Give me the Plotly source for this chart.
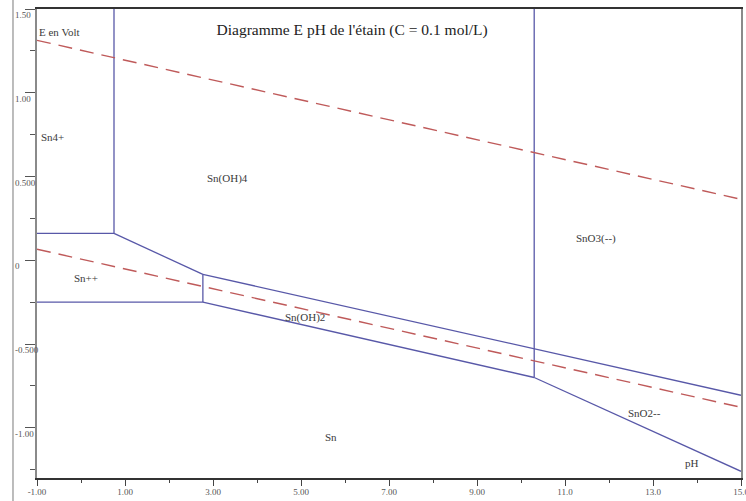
import plotly.graph_objects as go

# ---- axis ticks ----
x_major = [-1, 1, 3, 5, 7, 9, 11, 13, 15]
x_labels = ["-1.00", "1.00", "3.00", "5.00", "7.00", "9.00", "11.0", "13.0", "15.0"]
x_minor = [0, 2, 4, 6, 8, 10, 12, 14]
y_major = [1.5, 1.0, 0.5, 0, -0.5, -1.0]
y_labels = ["1.50", "1.00", "0.500", "0", "-0.500", "-1.00"]
y_minor = [1.25, 0.75, 0.25, -0.25, -0.75, -1.25]

# ---- boundary lines (pH, E in volt) ----
sn4_sn2_pH = [-1, 0.75]
sn4_sn2_E = [0.16, 0.16]
sn4_snoh4_pH = [0.75, 0.75]
sn4_snoh4_E = [0.16, 1.5]
snoh4_sn2_pH = [0.75, 2.77]
snoh4_sn2_E = [0.16, -0.084]
sn2_snoh2_pH = [2.77, 2.77]
sn2_snoh2_E = [-0.084, -0.25]
sn2_sn_pH = [-1, 2.77]
sn2_sn_E = [-0.25, -0.25]
snoh4_snoh2_pH = [2.77, 15]
snoh4_snoh2_E = [-0.084, -0.806]
snoh2_sn_pH = [2.77, 10.3]
snoh2_sn_E = [-0.25, -0.70]
snoh4_sno3_pH = [10.3, 10.3]
snoh4_sno3_E = [-0.70, 1.5]
sno2_sn_pH = [10.3, 15]
sno2_sn_E = [-0.70, -1.26]

# ---- water stability lines ----
o2_pH = [-1, 15]
o2_E = [1.313, 0.364]
h2_pH = [-1, 15]
h2_E = [0.066, -0.878]

# ---- region labels ----
label_text = ["E en Volt", "Sn4+", "Sn(OH)4", "Sn++", "Sn(OH)2", "SnO3(--)", "SnO2--", "Sn", "pH"]
label_pH = [-1.0, -0.955, 2.82, -0.205, 4.59, 11.2, 12.39, 5.5, 13.68]
label_E = [1.361, 0.734, 0.490, -0.107, -0.340, 0.131, -0.913, -1.057, -1.212]

title_text = "Diagramme E pH de l'étain (C = 0.1 mol/L)"

BLUE = "#5858a8"
RED = "#bf5a5a"
SERIF = "Liberation Serif"

fig = go.Figure()

blue_segments = [
    (sn4_sn2_pH, sn4_sn2_E),
    (sn4_snoh4_pH, sn4_snoh4_E),
    (snoh4_sn2_pH, snoh4_sn2_E),
    (sn2_snoh2_pH, sn2_snoh2_E),
    (sn2_sn_pH, sn2_sn_E),
    (snoh4_snoh2_pH, snoh4_snoh2_E),
    (snoh2_sn_pH, snoh2_sn_E),
    (snoh4_sno3_pH, snoh4_sno3_E),
    (sno2_sn_pH, sno2_sn_E),
]
for xs, ys in blue_segments:
    fig.add_trace(go.Scatter(x=xs, y=ys, mode="lines",
                             line=dict(color=BLUE, width=1.3),
                             showlegend=False, hoverinfo="skip"))

for xs, ys in [(o2_pH, o2_E), (h2_pH, h2_E)]:
    fig.add_trace(go.Scatter(x=xs, y=ys, mode="lines",
                             line=dict(color=RED, width=1.4, dash="14px,8px"),
                             showlegend=False, hoverinfo="skip"))

annotations = []
for t, xv, yv in zip(label_text, label_pH, label_E):
    annotations.append(dict(x=xv, y=yv, xref="x", yref="y", text=t, showarrow=False,
                            xanchor="left", yanchor="middle",
                            font=dict(family=SERIF, size=11, color="#3a3a3a")))

# y tick labels, left-aligned at the outer frame
for t, yv in zip(y_labels, y_major):
    annotations.append(dict(x=-0.0341, y=yv, xref="paper", yref="y", text=t, showarrow=False,
                            xanchor="left", yanchor="middle", yshift=-6,
                            font=dict(family=SERIF, size=9, color="#555555")))

fig.update_layout(
    width=746, height=501,
    margin=dict(l=37, r=5, t=9, b=23, autoexpand=False),
    paper_bgcolor="white", plot_bgcolor="white",
    title=dict(text=title_text, x=0.472, xref="container", xanchor="center",
               y=1 - 30 / 501, yref="container", yanchor="middle",
               font=dict(family=SERIF, size=15.5, color="#222222")),
    annotations=annotations,
    shapes=[dict(type="line", xref="paper", yref="paper",
                 x0=-0.0341, x1=-0.0341, y0=-0.06, y1=1.03,
                 line=dict(color="#8f8f8f", width=1.2))],
    xaxis=dict(range=[-1, 15], showgrid=False, zeroline=False, automargin=False,
               showline=True, linecolor="#333333", linewidth=1.5, mirror=True,
               ticks="outside", tickvals=x_major, ticktext=x_labels,
               ticklen=6, tickcolor="#444444", tickwidth=1,
               ticklabelstandoff=-2, ticklabeloverflow="allow",
               tickfont=dict(family=SERIF, size=9, color="#555555"),
               minor=dict(tickvals=x_minor, ticks="outside", ticklen=3,
                          tickcolor="#444444"),
               fixedrange=True),
    yaxis=dict(range=[-1.3, 1.5], showgrid=False, zeroline=False, automargin=False,
               showline=True, linecolor="#8a8a8a", linewidth=2, mirror=True,
               ticks="outside", tickvals=y_major, showticklabels=False,
               ticklen=10, tickcolor="#555555", tickwidth=1,
               minor=dict(tickvals=y_minor, ticks="outside", ticklen=5,
                          tickcolor="#555555"),
               fixedrange=True),
)

fig.write_html(
    "out.html",
    config={"displayModeBar": False},
    post_script="document.body.style.margin='0';document.body.style.padding='0';"
                "document.body.style.overflow='hidden';",
)
